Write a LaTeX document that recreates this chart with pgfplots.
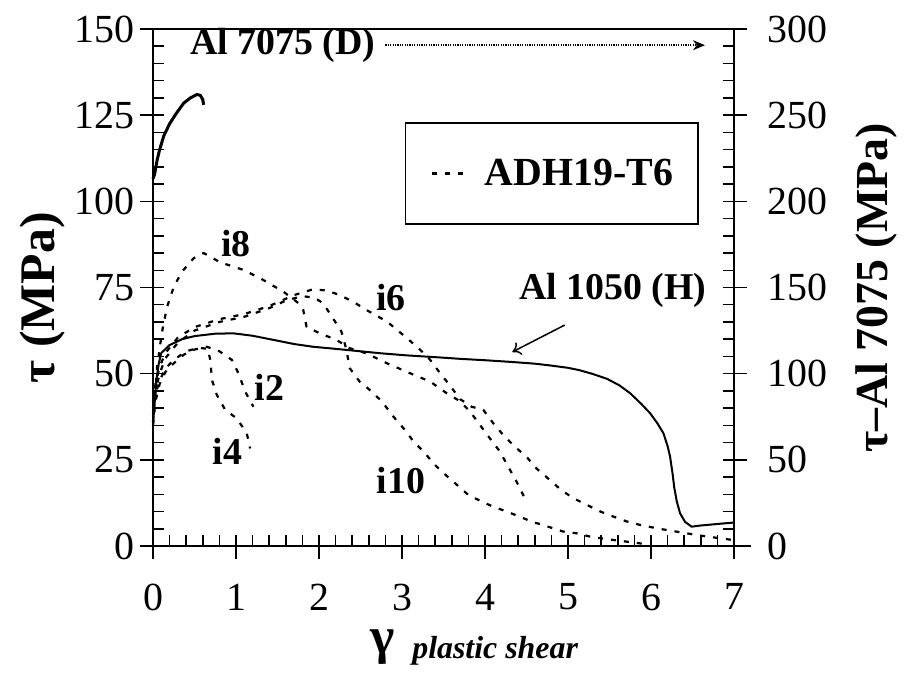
\documentclass[border=0pt]{standalone}
\usepackage{pgfplots}
\pgfplotsset{compat=1.18}
\usepackage{fontspec}
\setmainfont{Liberation Serif}
\usetikzlibrary{arrows.meta}
\newcommand\fs[1]{\fontsize{#1}{#1}\selectfont}

\pgfplotstableread{
x y
0.00 35
0.02 42
0.04 48
0.07 53
0.10 56
0.20 58.3
0.35 60
0.50 60.9
0.75 61.6
0.97 61.7
1.20 61
1.45 59.8
1.70 58.6
1.93 57.8
2.20 57.2
2.41 56.7
2.75 55.9
3.06 55.3
3.46 54.7
3.70 54.3
4.00 53.9
4.32 53.4
4.60 52.9
4.78 52.4
5.00 51.7
5.14 51.0
5.30 49.9
5.47 48.5
5.62 46.6
5.75 44.3
5.88 41.3
5.99 38.5
6.08 35.5
6.15 32.7
6.20 29
6.23 25.9
6.26 21
6.28 17
6.31 13
6.35 9.5
6.41 7
6.49 5.6
6.58 5.9
6.67 6.1
6.85 6.5
7.00 6.8
}\alten

\pgfplotstableread{
x y
0.00 213
0.02 216
0.05 224
0.08 230
0.13 238
0.20 245
0.28 251
0.37 257
0.45 260
0.53 262
0.57 261.5
0.60 259
0.61 256
}\alseven

\pgfplotstableread{
x y
0.00 35
0.03 42
0.08 47
0.15 50.5
0.25 53
0.37 55.5
0.50 57
0.65 57.8
0.80 56.5
0.95 54
1.03 50.1
1.11 44.8
1.21 40.4
}\itwo

\pgfplotstableread{
x y
0.00 38
0.03 44
0.08 48
0.15 51.5
0.25 54
0.40 56.5
0.55 57.5
0.66 57.2
0.69 54
0.71 48.2
0.77 43.8
0.87 39.5
1.01 37
1.13 32.7
1.17 28.3
}\ifour

\pgfplotstableread{
x y
0.00 42
0.03 47
0.08 52
0.15 56
0.30 60.5
0.50 63.5
0.80 65.8
1.10 67.3
1.40 69.6
1.70 72.8
1.93 74.5
2.10 74.1
2.25 72.8
2.41 70.9
2.57 68.5
2.82 65.1
3.06 60.3
3.22 56.9
3.34 54
3.46 50.1
3.58 46.5
3.70 42.6
3.84 40.4
3.98 39.5
4.10 35.6
4.22 32.2
4.36 28.8
4.50 25.9
4.62 22.5
4.76 19.6
4.92 16.2
5.07 13.8
5.23 11.9
5.39 10
5.55 8.5
5.71 7.1
5.87 6.1
6.10 5
6.30 4.2
6.60 3
7.00 1.7
}\isix

\pgfplotstableread{
x y
0.00 36
0.02 42
0.05 52
0.09 59
0.12 63.6
0.17 69.4
0.25 75.2
0.35 79.6
0.49 83.5
0.61 85
0.81 82.3
1.09 80.1
1.29 77.7
1.57 73.8
1.75 70.5
1.81 68.5
1.85 63.6
2.01 61.7
2.21 59.8
2.37 57.4
2.57 55.9
2.82 53
3.10 50.1
3.34 47.7
3.54 44.3
3.70 42
3.82 39
3.94 35.1
4.06 31.2
4.18 27.4
4.28 23
4.38 18.7
4.48 13.8
}\ieight

\pgfplotstableread{
x y
0.00 40
0.03 45
0.08 50
0.15 54.5
0.30 59
0.50 62.5
0.80 65
1.10 66.5
1.40 69
1.60 71.2
1.80 72.5
1.95 72
2.05 70.4
2.17 66
2.27 62.2
2.33 57
2.37 51.6
2.49 47.7
2.61 45.3
2.76 41.9
2.88 38
3.02 34.1
3.14 30.3
3.26 27.4
3.38 24
3.46 22
3.64 18.2
3.80 14.8
3.96 12.9
4.10 11.4
4.26 10
4.42 8.5
4.56 7.1
4.76 5.6
4.94 4.2
5.10 3.7
5.27 2.7
5.47 2
5.63 1.5
5.79 1
5.95 0.5
}\iten

\pgfplotsset{
  common/.style={
    at={(76.5bp,69.5bp)}, anchor=south west,
    width=290.5bp, height=258.5bp, scale only axis,
    xmin=0, xmax=7,
    axis line style={-, line width=1bp},
    tick align=inside, major tick length=5.5bp, minor tick length=5.5bp,
    tick style={line width=0.75bp, black},
    /pgf/number format/assume math mode=true,
    clip=false,
  },
  adh/.style={black, line width=1.1bp, dash pattern=on 2.5bp off 4bp},
}

\begin{document}
\begin{tikzpicture}
\path[use as bounding box] (0,0) rectangle (454.5bp,342.5bp);
\begin{axis}[common,
  ymin=0, ymax=150,
  axis x line*=bottom, axis y line*=left,
  xtick={0,...,7}, ytick={0,25,...,150},
  minor x tick num=4, minor y tick num=4,
  extra x ticks={0,...,7},
  extra x tick style={tick align=outside, major tick length=6.5bp, xticklabel={}},
  extra y ticks={0,25,...,150},
  extra y tick style={tick align=outside, major tick length=6.5bp, yticklabel={}},
  xticklabel style={font=\fs{20}, inner sep=0pt, anchor=north, yshift=-18.75bp},
  yticklabel style={font=\fs{20}, inner sep=0pt, anchor=east, xshift=-9bp},
  ylabel={\textbf{τ (MPa)}},
  ylabel style={font=\fs{25}, at={(axis description cs:-0.191,0.48)}, anchor=center},
  xlabel={\textbf{\fs{26}γ}\hspace{9bp}\raisebox{-2.5bp}{\fs{16}\bfseries\itshape plastic shear}},
  xlabel style={at={(axis description cs:0.5525,-0.207)}, anchor=base},
  legend style={at={(axis description cs:0.4337,0.820)}, anchor=north west,
    draw=black, line width=0.75bp, inner xsep=12.5bp, inner ysep=18bp,
    font=\fs{20}\bfseries, nodes={inner sep=0pt}, column sep=10.5bp},
  legend image code/.code={\draw[#1] (0bp,0bp) -- (15.5bp,0bp);},
]
\addplot[adh] table {\itwo};
\addlegendentry{ADH19-T6}
\addplot[adh] table {\ifour};
\addplot[adh] table {\isix};
\addplot[adh] table {\ieight};
\addplot[adh] table {\iten};
\addplot[black, line width=1bp] table {\alten};

\draw[line width=1bp] (axis cs:-0.157,150) -- (axis cs:7.16,150);
\draw[line width=1bp] (axis cs:-0.157,0) -- (axis cs:7.2,0);

\node[font=\fs{19}\bfseries] at (axis cs:1.566,145.3) {Al 7075 (D)};
\draw[line width=0.7bp, dash pattern=on 0.6bp off 0.6bp, -{Stealth[length=6bp,width=5bp]}] (axis cs:2.80,145.3) -- (axis cs:6.65,145.3);
\node[font=\fs{19}\bfseries] at (axis cs:5.54,74.3) {Al 1050 (H)};
\draw[line width=0.75bp, -{To[length=4bp,width=7bp]}] (axis cs:4.96,64.1) -- (axis cs:4.33,56.3);
\node[font=\fs{19}\bfseries] at (axis cs:1.0,87.8) {i8};
\node[font=\fs{19}\bfseries] at (axis cs:2.865,72.1) {i6};
\node[font=\fs{19}\bfseries] at (axis cs:1.40,46) {i2};
\node[font=\fs{19}\bfseries] at (axis cs:0.898,27.4) {i4};
\node[font=\fs{19}\bfseries] at (axis cs:2.986,19.1) {i10};
\end{axis}

\begin{axis}[common,
  ymin=0, ymax=300,
  axis x line=none, axis y line*=right,
  ytick={0,50,...,300}, minor y tick num=4,
  extra y ticks={0,50,...,300},
  extra y tick style={tick align=outside, major tick length=6.5bp, yticklabel={}},
  yticklabel style={font=\fs{20}, inner sep=0pt, anchor=west, xshift=16.5bp},
  ylabel={\textbf{τ–Al 7075 (MPa)}},
  ylabel style={font=\fs{23}, at={(axis description cs:1.246,0.499)}, anchor=center},
]
\addplot[black, line width=1.5bp] table {\alseven};
\end{axis}
\end{tikzpicture}
\end{document}
